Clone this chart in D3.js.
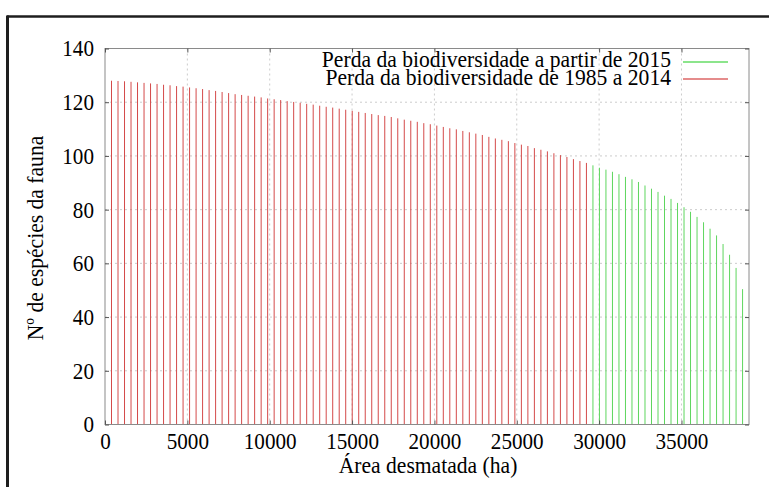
<!DOCTYPE html>
<html>
<head>
<meta charset="utf-8">
<script src="https://cdn.jsdelivr.net/npm/d3@7"></script>
<style>
  body { margin: 0; background: #fff; }
  svg text { font-family: "Liberation Serif", "Times New Roman", serif; fill: #000; }
</style>
</head>
<body>
<div id="chart"></div>
<script>
// area desmatada (ha) and species count, 1985-2014
var areaAntes = [395,790,1185,1580,1975,2370,2765,3160,3555,3950,4345,4740,5135,5530,5925,6320,6715,7110,7505,7900,
  8295,8690,9085,9480,9875,10270,10665,11060,11455,11850,12245,12640,13035,13430,13825,14220,14615,15010,15405,15800,
  16195,16590,16985,17380,17775,18170,18565,18960,19355,19750,20145,20540,20935,21330,21725,22120,22515,22910,23305,23700,
  24095,24490,24885,25280,25675,26070,26465,26860,27255,27650,28045,28440,28835,29230];
var especiesAntes = [128.0,127.9,127.8,127.6,127.4,127.2,127.0,126.8,126.5,126.3,126.0,125.8,125.5,125.2,124.9,124.5,124.2,123.8,123.4,123.0,
  122.7,122.4,122.1,121.8,121.4,121.1,120.8,120.4,120.1,119.8,119.4,119.1,118.7,118.3,118.0,117.6,117.2,116.8,116.4,116.0,
  115.6,115.2,114.9,114.5,114.0,113.5,113.1,112.7,112.2,111.8,111.3,110.8,110.3,109.9,109.3,108.8,108.3,107.8,107.1,106.5,
  106.0,105.5,104.8,104.2,103.7,102.9,102.3,101.7,101.0,100.3,99.6,98.8,98.1,97.4];

// a partir de 2015
var areaDepois = [29625,30020,30415,30810,31205,31600,31995,32390,32785,33180,33575,33970,34365,34760,35155,35550,
  35945,36340,36735,37130,37525,37920,38315,38710];
var especiesDepois = [96.5,95.6,94.9,94.1,93.2,92.2,91.3,90.3,89.0,87.8,86.6,85.2,84.0,82.5,80.9,79.2,
  77.3,75.3,72.9,70.4,67.2,63.2,58.3,50.4];

var xTicks = [0,5000,10000,15000,20000,25000,30000,35000];
var yTicks = [0,20,40,60,80,100,120,140];

var legenda = ["Perda da biodiversidade a partir de 2015", "Perda da biodiversidade de 1985 a 2014"];

var width = 769, height = 487;
var pLeft = 105, pRight = 749, pTop = 48.5, pBottom = 424.5;
var vermelho = "#d44a4a", verde = "#5ed65e";
var estreito = "scale(0.92,1)"; // times text in the original looks narrow

var svg = d3.select("#chart").append("svg")
  .attr("width", width)
  .attr("height", height);

var x = d3.scaleLinear().domain([0, 39100]).range([pLeft, pRight]);
var y = d3.scaleLinear().domain([0, 140]).range([pBottom, pTop]);

// outer window frame
svg.append("line").attr("x1", 7).attr("x2", width).attr("y1", 16.5).attr("y2", 16.5)
  .attr("stroke", "#1e1e1e").attr("stroke-width", 2.5);
svg.append("line").attr("x1", 7.5).attr("x2", 7.5).attr("y1", 15.5).attr("y2", height)
  .attr("stroke", "#1e1e1e").attr("stroke-width", 3);

// grid
var grid = svg.append("g");
grid.selectAll(".gx").data(xTicks.slice(1)).enter().append("line")
  .attr("x1", function(d) { return x(d); }).attr("x2", function(d) { return x(d); })
  .attr("y1", pTop).attr("y2", pBottom)
  .attr("stroke", "#cccccc").attr("stroke-dasharray", "2,3");
grid.selectAll(".gy").data(yTicks.slice(1, -1)).enter().append("line")
  .attr("x1", pLeft).attr("x2", pRight)
  .attr("y1", function(d) { return y(d); }).attr("y2", function(d) { return y(d); })
  .attr("stroke", "#cccccc").attr("stroke-dasharray", "2,3");

// impulses
function impulses(xs, ys, cor) {
  svg.append("g").selectAll("line").data(xs).enter().append("line")
    .attr("x1", function(d) { return x(d); }).attr("x2", function(d) { return x(d); })
    .attr("y1", y(0)).attr("y2", function(d, i) { return y(ys[i]); })
    .attr("stroke", cor).attr("stroke-width", 1);
}
impulses(areaAntes, especiesAntes, vermelho);
impulses(areaDepois, especiesDepois, verde);

// border
svg.append("rect").attr("x", pLeft).attr("y", pTop)
  .attr("width", pRight - pLeft).attr("height", pBottom - pTop)
  .attr("fill", "none").attr("stroke", "#8a8a8a").attr("stroke-width", 1);

// axes
var xAxis = svg.append("g").attr("transform", "translate(0," + pBottom + ")")
  .call(d3.axisBottom(x).tickValues(xTicks).tickFormat(d3.format("d")).tickSize(-4).tickPadding(8));
var xTop = svg.append("g").attr("transform", "translate(0," + pTop + ")")
  .call(d3.axisTop(x).tickValues(xTicks).tickSize(-4).tickFormat(""));
var yAxis = svg.append("g").attr("transform", "translate(" + pLeft + ",0)")
  .call(d3.axisLeft(y).tickValues(yTicks).tickSize(-4).tickPadding(12));
var yRight = svg.append("g").attr("transform", "translate(" + pRight + ",0)")
  .call(d3.axisRight(y).tickValues(yTicks).tickSize(-4).tickFormat(""));

[xAxis, xTop, yAxis, yRight].forEach(function(a) {
  a.select(".domain").remove();
  a.selectAll(".tick line").attr("stroke", "#555");
  a.selectAll("text").style("font-size", "23px")
    .style("font-family", '"Liberation Serif", serif').attr("fill", "#000")
    .attr("transform", estreito);
});
xAxis.selectAll("text").attr("dy", "0.71em");

// titles
svg.append("text").attr("transform", "translate(428,473) " + estreito)
  .attr("text-anchor", "middle").style("font-size", "23.5px")
  .text("Área desmatada (ha)");
svg.append("text").attr("transform", "translate(43,238) rotate(-90) " + estreito)
  .attr("text-anchor", "middle").style("font-size", "23.5px")
  .text("Nº de espécies da fauna");

// legend
var cores = ["#66dd66", "#dd6666"];
var leg = svg.append("g");
legenda.forEach(function(t, i) {
  leg.append("text").attr("transform", "translate(671," + (67 + i * 17.7) + ") " + estreito)
    .attr("text-anchor", "end").style("font-size", "23.5px").text(t);
  leg.append("line").attr("x1", 683).attr("x2", 728)
    .attr("y1", 62 + i * 17).attr("y2", 62 + i * 17)
    .attr("stroke", cores[i]).attr("stroke-width", 1.5);
});
</script>
</body>
</html>
